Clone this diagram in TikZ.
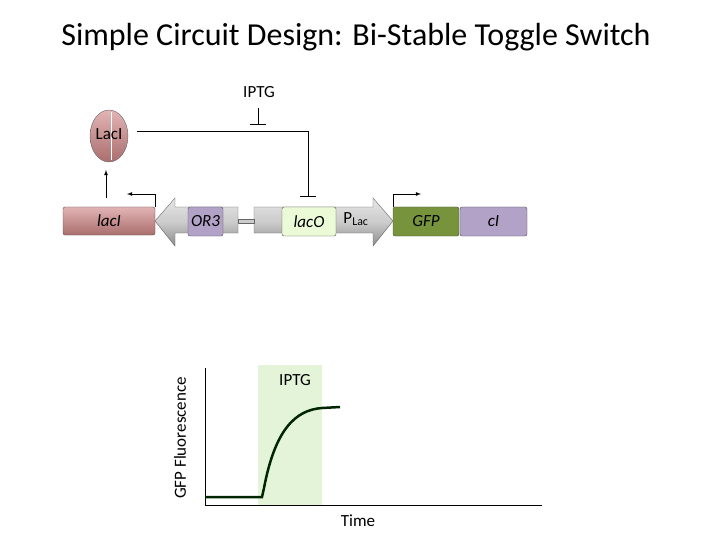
\documentclass[tikz,border=0pt]{standalone}
\usepackage{fontspec}
\setmainfont{Carlito}
\usetikzlibrary{shapes.geometric}
\definecolor{pinkT}{RGB}{226,180,180}
\definecolor{pinkB}{RGB}{170,110,110}
\definecolor{gfpc}{RGB}{119,147,60}
\definecolor{cic}{RGB}{178,162,199}
\definecolor{lacoc}{RGB}{235,250,215}
\begin{document}
\begin{tikzpicture}[x=1pt,y=-1pt,
  part/.style={draw=black!70,rounded corners=2pt,inner sep=0pt},
  lbl/.style={font=\itshape\fontsize{17}{19}\selectfont},
  txt/.style={font=\fontsize{17}{19}\selectfont},
  arrowbody/.style={draw=black!60,top color=black!10,bottom color=black!45,middle color=black!20},
  prom/.style={->,>=latex,thick},
  rep/.style={thick}]
\useasboundingbox (0,0) rectangle (720,540);
\node (title) at (356,37) {\fontsize{32}{36}\selectfont Simple Circuit Design: Bi-Stable Toggle Switch};
% backbone arrows
\draw[arrowbody] (238,207) -- (175,207) -- (175,198) -- (155,221) -- (175,246) -- (175,233) -- (238,233) -- cycle;
\draw[arrowbody] (254,207) -- (373,207) -- (373,198) -- (393,221) -- (373,246) -- (373,233) -- (254,233) -- cycle;
\node[draw=black!60,fill=black!20,minimum width=16pt,minimum height=4pt,inner sep=0pt] (link) at (246,221) {};
\node[part,top color=pinkT,bottom color=pinkB,minimum width=92pt,minimum height=28pt] (lacI) at (109,221) {};
\node[lbl] at (lacI) {lacI};
\node[part,fill=cic,minimum width=35pt,minimum height=29pt] (OR3) at (205.5,221.5) {};
\node[lbl] at (OR3) {OR3};
\node[part,fill=lacoc,minimum width=54pt,minimum height=29pt] (lacO) at (309,221.5) {};
\node[lbl] at (lacO) {lacO};
\node[txt] (plac) at (356,219) {P\textsubscript{Lac}};
\node[part,fill=gfpc,minimum width=66pt,minimum height=29pt] (GFP) at (426,221.5) {};
\node[lbl] at (GFP) {GFP};
\node[part,fill=cic,minimum width=67pt,minimum height=29pt] (cI) at (493.5,221.5) {};
\node[lbl] at (cI) {cI};
% protein
\node[draw=black!60,ellipse,top color=pinkT,bottom color=pinkB,minimum width=38pt,minimum height=52pt,inner sep=0pt] (LacIp) at (109,136) {};
\draw[white] (111,112) -- (111,160);
\node[txt] at (109,134) {LacI};
% promoter arrows
\coordinate (p1) at (155,194); \coordinate (p1e) at (127,194);
\draw[prom] (155,207) -- (p1) -- (p1e);
\coordinate (p2) at (393,194); \coordinate (p2e) at (421,194);
\draw[prom] (393,207) -- (p2) -- (p2e);
% expression
\draw[->,>=latex,thick] (106,198) -- (106,170);
% repression
\coordinate (r1) at (308,131);
\coordinate (r2) at (308,196);
\draw[rep] (137,131) -- (r1) -- (r2);
\draw[rep] (300,196) -- (316,196);
\node[txt] (iptg) at (259,92) {IPTG};
\coordinate (i1) at (258,108); \coordinate (i2) at (258,124);
\draw[rep] (i1) -- (i2); \draw[rep] (250,124) -- (266,124);
% plot
\fill[green!40!olive!15] (258,365) rectangle (322,505);
\coordinate (o) at (205,505);
\draw (205,368) -- (o) -- (542,505);
\node[txt] at (295,380) {IPTG};
\node[txt] at (358,521) {Time};
\node[txt,rotate=90] at (180,438) {GFP Fluorescence};
\draw[line width=2.5pt,black!85!green] (205,497) -- (262,497) -- (264,488) .. controls (275,430) and (295,410) .. (322,408) -- (340,407);
\end{tikzpicture}
\end{document}
